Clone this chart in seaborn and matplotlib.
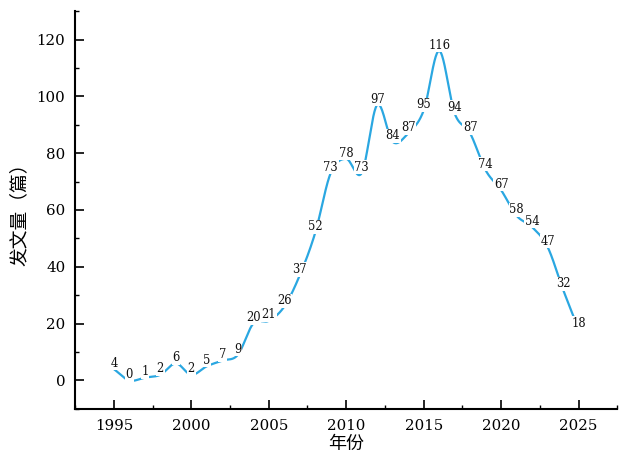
import numpy as np
import pandas as pd
import matplotlib
matplotlib.use("Agg")
import matplotlib.pyplot as plt
import seaborn as sns
from matplotlib.ticker import MultipleLocator

# data
years = list(range(1995, 2026))
counts = [4, 0, 1, 2, 6, 2, 5, 7, 9, 20, 21, 26, 37, 52, 73, 78, 73, 97, 84, 87,
          95, 116, 94, 87, 74, 67, 58, 54, 47, 32, 18]

x_label = "年份"
y_label = "发文量（篇）"
line_color = "#2aa7e1"


def smooth_curve(x, y, per_seg=40):
    # Catmull-Rom style cubic Hermite curve through the data points
    x = np.asarray(x, float)
    y = np.asarray(y, float)
    m = np.gradient(y, x)
    xs_all, ys_all = [], []
    for i in range(len(x) - 1):
        h = x[i + 1] - x[i]
        t = np.linspace(0, 1, per_seg, endpoint=False)
        h00 = 2 * t**3 - 3 * t**2 + 1
        h10 = t**3 - 2 * t**2 + t
        h01 = -2 * t**3 + 3 * t**2
        h11 = t**3 - t**2
        xs_all.append(x[i] + t * h)
        ys_all.append(h00 * y[i] + h10 * h * m[i] + h01 * y[i + 1] + h11 * h * m[i + 1])
    xs_all.append([x[-1]])
    ys_all.append([y[-1]])
    return np.concatenate(xs_all), np.concatenate(ys_all)


sns.set_style("ticks")
plt.rcParams["font.family"] = ["DejaVu Serif", "Noto Sans CJK SC"]

fig = plt.figure(figsize=(6.21, 4.62), dpi=100)
ax = fig.add_axes([0.121, 0.115, 0.873, 0.861])

xs, ys = smooth_curve(years, counts)
curve = pd.DataFrame({"year": xs, "count": ys})
sns.lineplot(data=curve, x="year", y="count", ax=ax, color=line_color, lw=1.6,
             sort=False)

for yr, v in zip(years, counts):
    ax.annotate(str(v), (yr, v), xytext=(0, 4.2), textcoords="offset points",
                ha="center", va="center", fontsize=8.3, color="#111111",
                bbox=dict(boxstyle="square,pad=0.05", fc="white", ec="none"))

ax.set_xlim(1992.5, 2027.5)
ax.set_ylim(-10, 130)
ax.xaxis.set_minor_locator(MultipleLocator(2.5))
ax.yaxis.set_minor_locator(MultipleLocator(10))
ax.set_yticks([0, 20, 40, 60, 80, 100, 120])
ax.set_xticks([1995, 2000, 2005, 2010, 2015, 2020, 2025])

ax.tick_params(which="major", direction="in", length=6.5, width=1.2, labelsize=10.8,
               pad=7, colors="black")
ax.tick_params(which="minor", direction="in", length=3, width=1.0, colors="black")
for side in ["top", "right"]:
    ax.spines[side].set_visible(False)
for side in ["left", "bottom"]:
    ax.spines[side].set_linewidth(1.5)
    ax.spines[side].set_color("black")

ax.set_xlabel(x_label, family=["Noto Sans CJK SC"], fontsize=13, labelpad=2,
              color="black")
ax.set_ylabel(y_label, family=["Noto Sans CJK SC"], fontsize=13.5, labelpad=5,
              color="black")

fig.savefig("out.png", dpi=100)
